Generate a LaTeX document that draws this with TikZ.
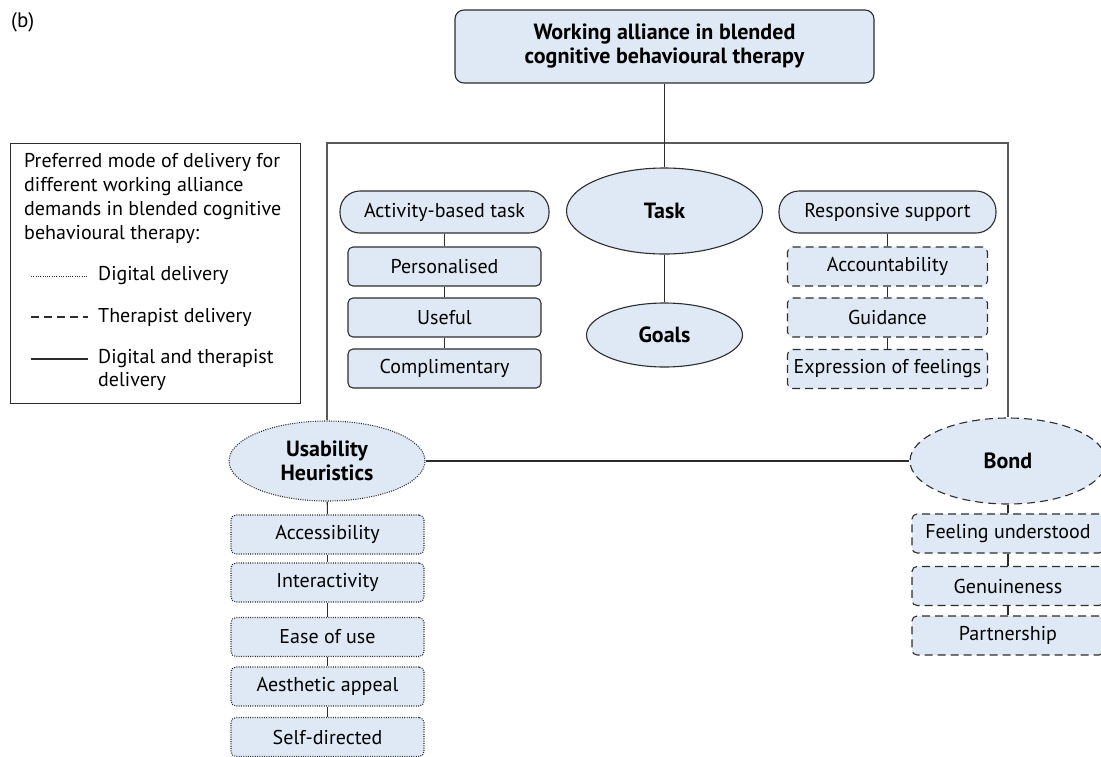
\documentclass[tikz,border=0pt]{standalone}
\usepackage{fontspec}
\setmainfont{PT Sans}
\usetikzlibrary{shapes, backgrounds, calc}

\definecolor{boxfill}{RGB}{222,233,245}
\definecolor{boxline}{RGB}{45,45,45}
\definecolor{frameline}{RGB}{90,90,90}

\tikzset{
	box/.style={draw=boxline, fill=boxfill, line width=1.1pt, rounded corners=5pt, minimum width=193pt, minimum height=39pt, inner sep=0pt, font=\fontsize{20}{23}\selectfont},
	pill/.style={box, rounded corners=20pt, minimum height=42pt},
	oval/.style={ellipse, draw=boxline, fill=boxfill, line width=1.1pt, inner sep=0pt, align=center, font=\bfseries\fontsize{22}{24}\selectfont},
	digital/.style={dash pattern=on 1pt off 1.3pt},
	therapist/.style={dash pattern=on 8pt off 5pt},
	link/.style={draw=boxline, line width=1.1pt},
}

\begin{document}
\begin{tikzpicture}[x=1pt, y=-1pt]
	\useasboundingbox (0,0) rectangle (1101,756);
	\node[anchor=west, inner sep=0pt, font=\fontsize{21}{24}\selectfont] (panel) at (11,22) {(b)};

	\node[box, minimum width=419pt, minimum height=73pt, rounded corners=9pt, align=center, font=\bfseries\fontsize{22}{24}\selectfont] (alliance) at (664.5,46.5) {Working alliance in blended\\cognitive behavioural therapy};

	\node[draw=boxline, line width=1pt, minimum width=290pt, minimum height=260pt, anchor=north west] (legend) at (10,143) {};
	\node[anchor=west, inner sep=0pt, align=left, font=\fontsize{20}{24}\selectfont] (legendtext) at (24,198) {Preferred mode of delivery for\\different working alliance\\demands in blended cognitive\\behavioural therapy:};
	\node[anchor=west, inner sep=0pt, font=\fontsize{20}{24}\selectfont] (digitaltext) at (98,276) {Digital delivery};
	\node[anchor=west, inner sep=0pt, font=\fontsize{20}{24}\selectfont] (therapisttext) at (98,317) {Therapist delivery};
	\node[anchor=west, inner sep=0pt, align=left, font=\fontsize{20}{23}\selectfont] (bothtext) at (98,369.5) {Digital and therapist\\delivery};
	\draw[boxline, line width=0.8pt, digital] (31,276) -- (88,276);
	\draw[boxline, line width=1.1pt, therapist] (31,317) -- (88,317);
	\draw[boxline, line width=1.1pt] (31,359) -- (88,359);

	\node[oval, minimum width=196pt, minimum height=86pt] (task) at (664.5,211) {Task};
	\node[oval, minimum width=156pt, minimum height=64pt] (goals) at (664.5,335) {Goals};

	\node[pill, minimum width=209pt] (activity) at (444.5,212) {Activity-based task};
	\node[box] (personalised) at (444.5,266.5) {Personalised};
	\node[box] (useful) at (444.5,317.5) {Useful};
	\node[box] (complimentary) at (444.5,368.5) {Complimentary};

	\node[pill, minimum width=217pt] (responsive) at (887.5,212) {Responsive support};
	\node[box, therapist, minimum width=200pt] (accountability) at (887.5,266.5) {Accountability};
	\node[box, therapist, minimum width=200pt] (guidance) at (887.5,317.5) {Guidance};
	\node[box, therapist, minimum width=200pt] (expression) at (887.5,369) {Expression of feelings};

	\node[oval, digital, minimum width=196pt, minimum height=80pt] (usability) at (327,461) {Usability\\Heuristics};
	\node[box, digital] (accessibility) at (327.5,534.5) {Accessibility};
	\node[box, digital] (interactivity) at (327.5,582.5) {Interactivity};
	\node[box, digital] (ease) at (327.5,637) {Ease of use};
	\node[box, digital] (aesthetic) at (327.5,686.5) {Aesthetic appeal};
	\node[box, digital] (selfdirected) at (327.5,737) {Self-directed};

	\node[oval, therapist, minimum width=196pt, minimum height=86pt] (bond) at (1008,461) {Bond};
	\node[box, therapist, minimum width=192pt] (understood) at (1008,533.5) {Feeling understood};
	\node[box, therapist, minimum width=192pt] (genuineness) at (1008,586) {Genuineness};
	\node[box, therapist, minimum width=192pt] (partnership) at (1008,635.5) {Partnership};

	\begin{scope}[on background layer]
		\draw[frameline, line width=1.2pt] (usability.north) -- (327,143) -- (1008,143) -- (bond.north);
		\draw[link] (alliance.south) -- (task.north);
		\draw[link] (task.south) -- (goals.north);
		\draw[link] (usability.east) -- (bond.west);
		\draw[link] (activity) -- (personalised);
		\draw[link] (personalised) -- (useful);
		\draw[link] (useful) -- (complimentary);
		\draw[link] (responsive) -- (accountability);
		\draw[link] (accountability) -- (guidance);
		\draw[link] (guidance) -- (expression);
		\draw[link] (usability) -- (accessibility);
		\draw[link] (accessibility) -- (interactivity);
		\draw[link] (interactivity) -- (ease);
		\draw[link] (ease) -- (aesthetic);
		\draw[link] (aesthetic) -- (selfdirected);
		\draw[link] (bond) -- (understood);
		\draw[link] (understood) -- (genuineness);
		\draw[link] (genuineness) -- (partnership);
	\end{scope}
\end{tikzpicture}
\end{document}
